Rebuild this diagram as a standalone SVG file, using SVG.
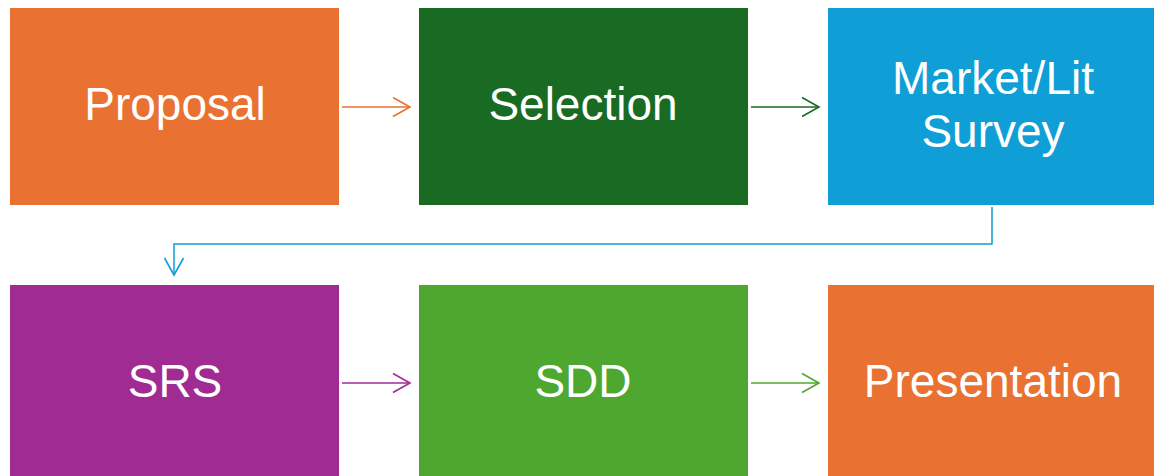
<svg xmlns="http://www.w3.org/2000/svg" width="1154" height="476" viewBox="0 0 1154 476">
  <defs>
    <style>
      .lbl { font-family: "Liberation Sans", Arial, sans-serif; font-size: 46px; fill: #ffffff; text-anchor: middle; }
      .conn { fill: none; stroke-width: 1.5; }
    </style>
    <!-- open chevron arrowheads, one per connector colour -->
    <marker id="arrOrange" markerWidth="22" markerHeight="22" refX="19" refY="11" orient="auto" markerUnits="userSpaceOnUse">
      <path d="M2,1.5 L19,11 L2,20.5" fill="none" stroke="#E97132" stroke-width="1.6"/>
    </marker>
    <marker id="arrDkGreen" markerWidth="22" markerHeight="22" refX="19" refY="11" orient="auto" markerUnits="userSpaceOnUse">
      <path d="M2,1.5 L19,11 L2,20.5" fill="none" stroke="#196B24" stroke-width="1.6"/>
    </marker>
    <marker id="arrBlue" markerWidth="22" markerHeight="22" refX="19" refY="11" orient="auto" markerUnits="userSpaceOnUse">
      <path d="M2,1.5 L19,11 L2,20.5" fill="none" stroke="#0F9ED5" stroke-width="1.6"/>
    </marker>
    <marker id="arrPurple" markerWidth="22" markerHeight="22" refX="19" refY="11" orient="auto" markerUnits="userSpaceOnUse">
      <path d="M2,1.5 L19,11 L2,20.5" fill="none" stroke="#A02B93" stroke-width="1.6"/>
    </marker>
    <marker id="arrGreen" markerWidth="22" markerHeight="22" refX="19" refY="11" orient="auto" markerUnits="userSpaceOnUse">
      <path d="M2,1.5 L19,11 L2,20.5" fill="none" stroke="#4EA72E" stroke-width="1.6"/>
    </marker>
  </defs>

  <rect width="1154" height="476" fill="#ffffff"/>

  <g id="proposal">
    <rect x="10" y="8" width="329" height="197" fill="#E97132"/>
    <text class="lbl" x="175" y="120">Proposal</text>
  </g>
  <g id="selection">
    <rect x="419" y="8" width="329" height="197" fill="#196B24"/>
    <text class="lbl" x="583" y="120">Selection</text>
  </g>
  <g id="survey">
    <rect x="828" y="8" width="329" height="197" fill="#0F9ED5"/>
    <text class="lbl" x="993" y="94">Market/Lit</text>
    <text class="lbl" x="993" y="147">Survey</text>
  </g>
  <g id="srs">
    <rect x="10" y="285" width="329" height="197" fill="#A02B93"/>
    <text class="lbl" x="175" y="397">SRS</text>
  </g>
  <g id="sdd">
    <rect x="419" y="285" width="329" height="197" fill="#4EA72E"/>
    <text class="lbl" x="583" y="397">SDD</text>
  </g>
  <g id="presentation">
    <rect x="828" y="285" width="329" height="197" fill="#E97132"/>
    <text class="lbl" x="993" y="397">Presentation</text>
  </g>

  <g id="connectors">
    <line class="conn" x1="342" y1="107" x2="410" y2="107" stroke="#E97132" marker-end="url(#arrOrange)"/>
    <line class="conn" x1="751" y1="107" x2="819" y2="107" stroke="#196B24" marker-end="url(#arrDkGreen)"/>
    <polyline class="conn" points="992,207 992,244 174,244 174,275" stroke="#0F9ED5" marker-end="url(#arrBlue)"/>
    <line class="conn" x1="342" y1="383" x2="410" y2="383" stroke="#A02B93" marker-end="url(#arrPurple)"/>
    <line class="conn" x1="751" y1="383" x2="819" y2="383" stroke="#4EA72E" marker-end="url(#arrGreen)"/>
  </g>
</svg>
